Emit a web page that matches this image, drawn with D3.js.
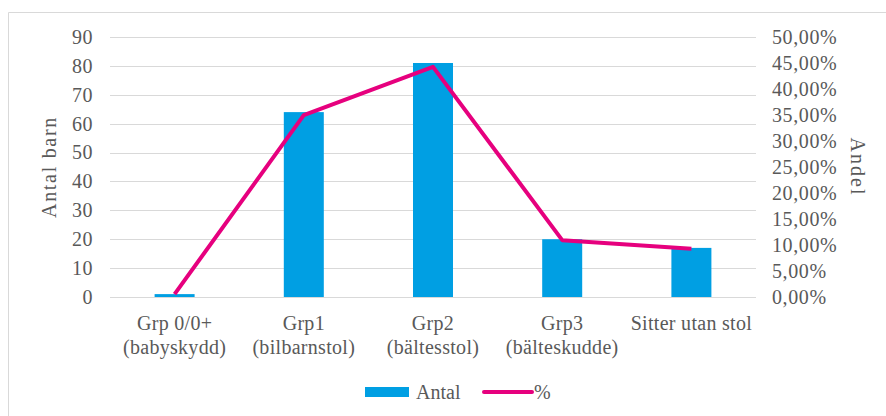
<!DOCTYPE html>
<html>
<head>
<meta charset="utf-8">
<script src="https://cdn.jsdelivr.net/npm/d3@7"></script>
<style>
  html, body { margin: 0; padding: 0; background: #fff; }
  svg { display: block; }
  svg text { font-family: 'Liberation Serif', Tinos, 'Times New Roman', Times, 'DejaVu Serif', serif !important; fill: #595959; }
</style>
</head>
<body>
<svg id="chart" width="886" height="416"></svg>
<script>
const categories = [
  ["Grp 0/0+", "(babyskydd)"],
  ["Grp1", "(bilbarnstol)"],
  ["Grp2", "(bältesstol)"],
  ["Grp3", "(bälteskudde)"],
  ["Sitter utan stol"]
];
const antal = [1, 64, 81, 20, 17];
const andel = [0.55, 34.97, 44.26, 10.93, 9.29];
const leftTicks = [0, 10, 20, 30, 40, 50, 60, 70, 80, 90];
const rightTicks = [0, 5, 10, 15, 20, 25, 30, 35, 40, 45, 50];
const seriesNames = ["Antal", "%"];

const svg = d3.select("#chart");
const m = { left: 110, right: 756, top: 37, bottom: 297 };
const barColor = "#009fe3";
const lineColor = "#e6007e";
const FONT = "'Liberation Serif', Tinos, 'Times New Roman', Times, 'DejaVu Serif', serif";

// outer frame (left and top edges visible)
svg.append("path")
  .attr("d", "M8.5,416 L8.5,12.5 L886,12.5")
  .attr("fill", "none").attr("stroke", "#d9d9d9").attr("stroke-width", 1);

const x = d3.scaleBand().domain(d3.range(categories.length)).range([m.left, m.right]).paddingInner(0).paddingOuter(0);
const yL = d3.scaleLinear().domain([0, 90]).range([m.bottom, m.top]);
const yR = d3.scaleLinear().domain([0, 50]).range([m.bottom, m.top]);

// gridlines
svg.append("g").selectAll("line").data(leftTicks).join("line")
  .attr("x1", m.left).attr("x2", m.right)
  .attr("y1", d => Math.round(yL(d)) + 0.5).attr("y2", d => Math.round(yL(d)) + 0.5)
  .attr("stroke", "#d9d9d9").attr("stroke-width", 1);

// left axis
const axL = d3.axisLeft(yL).tickValues(leftTicks).tickSize(0).tickPadding(17);
const gL = svg.append("g").attr("transform", `translate(${m.left},0)`).call(axL)
  .attr("font-family", FONT).attr("font-size", 20);
gL.select(".domain").remove();
gL.selectAll("text").attr("fill", "#595959").attr("letter-spacing", 0.5);

// right axis
const fmtPct = d => d.toFixed(2).replace(".", ",") + "%";
const axR = d3.axisRight(yR).tickValues(rightTicks).tickSize(0).tickPadding(16).tickFormat(fmtPct);
const gR = svg.append("g").attr("transform", `translate(${m.right},0)`).call(axR)
  .attr("font-family", FONT).attr("font-size", 20);
gR.select(".domain").remove();
gR.selectAll("text").attr("fill", "#595959").attr("letter-spacing", 0.6);

// bars
const bw = 40;
svg.append("g").selectAll("rect").data(antal).join("rect")
  .attr("x", (d, i) => x(i) + x.bandwidth() / 2 - bw / 2)
  .attr("width", bw)
  .attr("y", d => yL(d))
  .attr("height", d => yL(0) - yL(d))
  .attr("fill", barColor);

// line
const line = d3.line()
  .x((d, i) => x(i) + x.bandwidth() / 2)
  .y(d => yR(d));
svg.append("path").datum(andel)
  .attr("d", line)
  .attr("fill", "none").attr("stroke", lineColor).attr("stroke-width", 4)
  .attr("stroke-linejoin", "round");

// category labels
const gx = svg.append("g").attr("font-family", FONT).attr("font-size", 20);
categories.forEach((lines, i) => {
  const t = gx.append("text")
    .attr("x", x(i) + x.bandwidth() / 2)
    .attr("y", 330)
    .attr("text-anchor", "middle")
    .attr("letter-spacing", 0.3);
  lines.forEach((s, j) => {
    t.append("tspan").attr("x", x(i) + x.bandwidth() / 2).attr("dy", j === 0 ? 0 : 24).text(s);
  });
});

// axis titles
svg.append("text")
  .attr("transform", `translate(56,${(m.top + m.bottom) / 2}) rotate(-90)`)
  .attr("text-anchor", "middle").attr("font-size", 20).attr("font-family", FONT)
  .attr("letter-spacing", 1.7)
  .text("Antal barn");
svg.append("text")
  .attr("transform", `translate(851,${(m.top + m.bottom) / 2}) rotate(90)`)
  .attr("text-anchor", "middle").attr("font-size", 20).attr("font-family", FONT)
  .attr("letter-spacing", 2)
  .text("Andel");

// legend
const lg = svg.append("g").attr("font-family", FONT).attr("font-size", 20);
lg.append("rect").attr("x", 365).attr("y", 387).attr("width", 44).attr("height", 10).attr("fill", barColor);
lg.append("text").attr("x", 416).attr("y", 399).text(seriesNames[0]);
lg.append("line").attr("x1", 484).attr("x2", 532).attr("y1", 392).attr("y2", 392)
  .attr("stroke", lineColor).attr("stroke-width", 4).attr("stroke-linecap", "round");
lg.append("text").attr("x", 534).attr("y", 399).text(seriesNames[1]);
</script>
</body>
</html>
